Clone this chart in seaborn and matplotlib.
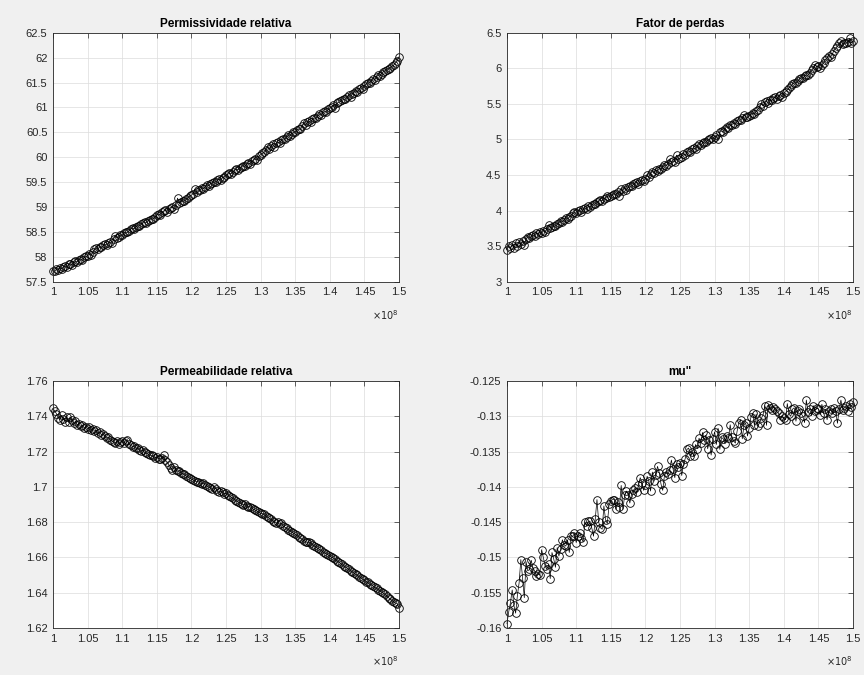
import numpy as np
import pandas as pd
import matplotlib
matplotlib.use('Agg')
import matplotlib.pyplot as plt
import seaborn as sns

# frequency sweep (Hz)
freq_start = 1.0e8
freq_stop = 1.5e8
n_points = 201
freq = np.linspace(freq_start, freq_stop, n_points)

permissividade = [
    57.72, 57.71, 57.75, 57.74, 57.78, 57.76, 57.80, 57.82, 57.79, 57.85,
    57.86, 57.84, 57.89, 57.91, 57.90, 57.94, 57.96, 57.93, 57.99, 58.01,
    58.02, 58.06, 58.03, 58.09, 58.15, 58.18, 58.16, 58.20, 58.19, 58.23,
    58.25, 58.24, 58.28, 58.30, 58.27, 58.36, 58.42, 58.38, 58.40, 58.44,
    58.43, 58.47, 58.50, 58.49, 58.53, 58.56, 58.58, 58.56, 58.61, 58.63,
    58.62, 58.66, 58.68, 58.70, 58.69, 58.73, 58.75, 58.77, 58.76, 58.80,
    58.84, 58.86, 58.85, 58.90, 58.92, 58.94, 58.91, 58.97, 58.99, 59.00,
    58.96, 59.04, 59.18, 59.08, 59.10, 59.13, 59.12, 59.16, 59.19, 59.22,
    59.24, 59.27, 59.36, 59.30, 59.34, 59.35, 59.38, 59.37, 59.41, 59.44,
    59.43, 59.47, 59.49, 59.51, 59.50, 59.54, 59.56, 59.55, 59.59, 59.61,
    59.64, 59.66, 59.68, 59.67, 59.71, 59.74, 59.76, 59.75, 59.79, 59.81,
    59.83, 59.82, 59.86, 59.88, 59.87, 59.92, 59.95, 59.97, 59.94, 60.02,
    60.05, 60.08, 60.10, 60.14, 60.20, 60.16, 60.22, 60.26, 60.21, 60.28,
    60.30, 60.29, 60.34, 60.37, 60.36, 60.41, 60.44, 60.43, 60.47, 60.50,
    60.51, 60.54, 60.57, 60.56, 60.62, 60.68, 60.64, 60.70, 60.72, 60.71,
    60.76, 60.79, 60.78, 60.83, 60.86, 60.85, 60.90, 60.92, 60.91, 60.96,
    60.99, 61.01, 61.05, 60.98, 61.08, 61.10, 61.12, 61.14, 61.17, 61.16,
    61.21, 61.25, 61.22, 61.27, 61.30, 61.34, 61.31, 61.37, 61.40, 61.38,
    61.44, 61.47, 61.50, 61.49, 61.54, 61.58, 61.55, 61.62, 61.65, 61.63,
    61.68, 61.72, 61.74, 61.76, 61.78, 61.80, 61.83, 61.85, 61.90, 61.94,
    62.02,
]

fator_perdas = [
    3.45, 3.50, 3.48, 3.52, 3.47, 3.54, 3.51, 3.56, 3.53, 3.58,
    3.52, 3.60, 3.63, 3.61, 3.64, 3.66, 3.65, 3.69, 3.67, 3.70,
    3.68, 3.72, 3.70, 3.74, 3.80, 3.76, 3.77, 3.79, 3.78, 3.81,
    3.83, 3.85, 3.84, 3.87, 3.90, 3.88, 3.91, 3.93, 3.96, 3.98,
    3.96, 3.99, 4.01, 3.98, 4.02, 4.04, 4.03, 4.06, 4.05, 4.08,
    4.10, 4.09, 4.12, 4.13, 4.15, 4.14, 4.17, 4.18, 4.20, 4.19,
    4.21, 4.22, 4.24, 4.23, 4.26, 4.21, 4.30, 4.28, 4.32, 4.29,
    4.33, 4.35, 4.34, 4.37, 4.39, 4.40, 4.38, 4.41, 4.43, 4.42,
    4.45, 4.50, 4.47, 4.52, 4.55, 4.53, 4.57, 4.56, 4.59, 4.58,
    4.62, 4.64, 4.63, 4.66, 4.72, 4.68, 4.70, 4.69, 4.78, 4.73,
    4.74, 4.76, 4.80, 4.78, 4.82, 4.84, 4.83, 4.86, 4.88, 4.87,
    4.91, 4.93, 4.92, 4.95, 4.97, 4.96, 4.99, 5.00, 5.02, 5.01,
    5.04, 5.06, 5.00, 5.10, 5.12, 5.11, 5.15, 5.18, 5.16, 5.20,
    5.21, 5.23, 5.22, 5.26, 5.28, 5.27, 5.30, 5.35, 5.32, 5.31,
    5.33, 5.35, 5.37, 5.36, 5.40, 5.42, 5.45, 5.50, 5.47, 5.52,
    5.54, 5.51, 5.56, 5.55, 5.58, 5.60, 5.57, 5.61, 5.63, 5.60,
    5.65, 5.67, 5.70, 5.72, 5.75, 5.78, 5.80, 5.79, 5.82, 5.85,
    5.87, 5.86, 5.89, 5.91, 5.90, 5.94, 5.97, 6.00, 6.05, 6.02,
    6.03, 6.00, 6.04, 6.08, 6.12, 6.15, 6.18, 6.16, 6.20, 6.25,
    6.28, 6.31, 6.35, 6.38, 6.34, 6.36, 6.35, 6.37, 6.42, 6.36,
    6.38,
]

permeabilidade = [
    1.7445, 1.7430, 1.7415, 1.7392, 1.7380, 1.7405, 1.7385, 1.7370, 1.7398, 1.7365,
    1.7395, 1.7378, 1.7360, 1.7372, 1.7350, 1.7355, 1.7342, 1.7348, 1.7335, 1.7340,
    1.7330, 1.7338, 1.7322, 1.7330, 1.7315, 1.7320, 1.7305, 1.7312, 1.7295, 1.7300,
    1.7288, 1.7275, 1.7282, 1.7268, 1.7260, 1.7255, 1.7250, 1.7258, 1.7245, 1.7252,
    1.7262, 1.7248, 1.7262, 1.7268, 1.7240, 1.7235, 1.7228, 1.7232, 1.7218, 1.7220,
    1.7210, 1.7202, 1.7208, 1.7195, 1.7190, 1.7185, 1.7180, 1.7178, 1.7172, 1.7165,
    1.7168, 1.7160, 1.7158, 1.7165, 1.7178, 1.7150, 1.7140, 1.7125, 1.7108, 1.7098,
    1.7110, 1.7095, 1.7088, 1.7092, 1.7080, 1.7075, 1.7070, 1.7062, 1.7058, 1.7050,
    1.7045, 1.7040, 1.7035, 1.7028, 1.7030, 1.7022, 1.7018, 1.7020, 1.7012, 1.7005,
    1.7000, 1.6995, 1.6985, 1.6998, 1.6990, 1.6978, 1.6970, 1.6975, 1.6968, 1.6960,
    1.6965, 1.6955, 1.6948, 1.6940, 1.6935, 1.6928, 1.6920, 1.6915, 1.6910, 1.6905,
    1.6898, 1.6902, 1.6890, 1.6885, 1.6888, 1.6878, 1.6872, 1.6868, 1.6862, 1.6855,
    1.6850, 1.6848, 1.6845, 1.6835, 1.6828, 1.6822, 1.6815, 1.6808, 1.6800, 1.6795,
    1.6798, 1.6788, 1.6795, 1.6780, 1.6772, 1.6765, 1.6758, 1.6752, 1.6745, 1.6738,
    1.6730, 1.6725, 1.6718, 1.6710, 1.6702, 1.6695, 1.6690, 1.6685, 1.6688, 1.6680,
    1.6672, 1.6665, 1.6660, 1.6652, 1.6645, 1.6640, 1.6632, 1.6625, 1.6622, 1.6615,
    1.6610, 1.6602, 1.6598, 1.6590, 1.6582, 1.6575, 1.6568, 1.6560, 1.6552, 1.6545,
    1.6540, 1.6532, 1.6525, 1.6518, 1.6510, 1.6505, 1.6498, 1.6490, 1.6485, 1.6478,
    1.6470, 1.6462, 1.6458, 1.6450, 1.6445, 1.6438, 1.6430, 1.6425, 1.6418, 1.6410,
    1.6405, 1.6398, 1.6390, 1.6382, 1.6372, 1.6362, 1.6355, 1.6348, 1.6342, 1.6338,
    1.6315,
]

mu_imag = [
    -0.1594, -0.1577, -0.1564, -0.1546, -0.1568, -0.1579, -0.1554, -0.1536, -0.1503, -0.1529,
    -0.1557, -0.1506, -0.1519, -0.1517, -0.1504, -0.1515, -0.1519, -0.1527, -0.1524, -0.1525,
    -0.1489, -0.1500, -0.1512, -0.1517, -0.1510, -0.1530, -0.1493, -0.1502, -0.1514, -0.1486,
    -0.1498, -0.1488, -0.1475, -0.1482, -0.1484, -0.1475, -0.1493, -0.1469, -0.1470, -0.1466,
    -0.1479, -0.1469, -0.1465, -0.1472, -0.1478, -0.1450, -0.1455, -0.1449, -0.1449, -0.1458,
    -0.1470, -0.1446, -0.1418, -0.1450, -0.1458, -0.1460, -0.1427, -0.1447, -0.1452, -0.1425,
    -0.1420, -0.1418, -0.1418, -0.1432, -0.1422, -0.1428, -0.1398, -0.1432, -0.1412, -0.1406,
    -0.1411, -0.1423, -0.1410, -0.1405, -0.1402, -0.1408, -0.1397, -0.1387, -0.1394, -0.1405,
    -0.1398, -0.1385, -0.1392, -0.1406, -0.1379, -0.1392, -0.1383, -0.1371, -0.1380, -0.1396,
    -0.1405, -0.1384, -0.1379, -0.1382, -0.1376, -0.1362, -0.1375, -0.1387, -0.1368, -0.1372,
    -0.1366, -0.1384, -0.1368, -0.1360, -0.1347, -0.1345, -0.1356, -0.1350, -0.1357, -0.1340,
    -0.1346, -0.1331, -0.1338, -0.1323, -0.1334, -0.1327, -0.1346, -0.1334, -0.1355, -0.1332,
    -0.1322, -0.1340, -0.1317, -0.1347, -0.1330, -0.1332, -0.1339, -0.1328, -0.1331, -0.1312,
    -0.1330, -0.1335, -0.1338, -0.1321, -0.1309, -0.1305, -0.1332, -0.1312, -0.1310, -0.1328,
    -0.1316, -0.1301, -0.1296, -0.1313, -0.1297, -0.1314, -0.1309, -0.1303, -0.1298, -0.1285,
    -0.1313, -0.1284, -0.1289, -0.1291, -0.1287, -0.1290, -0.1293, -0.1296, -0.1305, -0.1300,
    -0.1302, -0.1305, -0.1282, -0.1297, -0.1300, -0.1290, -0.1288, -0.1307, -0.1292, -0.1290,
    -0.1296, -0.1300, -0.1309, -0.1277, -0.1294, -0.1290, -0.1299, -0.1285, -0.1292, -0.1288,
    -0.1290, -0.1298, -0.1283, -0.1295, -0.1290, -0.1305, -0.1292, -0.1290, -0.1296, -0.1288,
    -0.1293, -0.1310, -0.1290, -0.1277, -0.1291, -0.1288, -0.1285, -0.1292, -0.1283, -0.1287,
    -0.1280,
]

titles = ['Permissividade relativa', 'Fator de perdas', 'Permeabilidade relativa', 'mu"']

xtick_values = [1.0e8, 1.05e8, 1.1e8, 1.15e8, 1.2e8, 1.25e8, 1.3e8, 1.35e8, 1.4e8, 1.45e8, 1.5e8]
xtick_labels = ['1', '1.05', '1.1', '1.15', '1.2', '1.25', '1.3', '1.35', '1.4', '1.45', '1.5']

yticks_permissividade = [57.5, 58, 58.5, 59, 59.5, 60, 60.5, 61, 61.5, 62, 62.5]
yticks_fator = [3, 3.5, 4, 4.5, 5, 5.5, 6, 6.5]
yticks_permeabilidade = [1.62, 1.64, 1.66, 1.68, 1.7, 1.72, 1.74, 1.76]
yticks_mu = [-0.16, -0.155, -0.15, -0.145, -0.14, -0.135, -0.13, -0.125]

# Style: MATLAB-like look
sns.set_theme(style='white')
plt.rcParams['font.family'] = ['Liberation Sans', 'DejaVu Sans']

fig = plt.figure(figsize=(8.64, 6.75), dpi=100, facecolor='#F0F0F0')

positions = [
    [0.0613, 0.5825, 0.4005, 0.3690],
    [0.5868, 0.5825, 0.4005, 0.3690],
    [0.0613, 0.0696, 0.4005, 0.3660],
    [0.5868, 0.0696, 0.4005, 0.3660],
]
series = [permissividade, fator_perdas, permeabilidade, mu_imag]
yticks_all = [yticks_permissividade, yticks_fator, yticks_permeabilidade, yticks_mu]

for pos, values, title, yticks in zip(positions, series, titles, yticks_all):
    ax = fig.add_axes(pos)
    ax.set_facecolor('white')
    panel = pd.DataFrame({'freq': freq, 'value': values})
    sns.lineplot(data=panel, x='freq', y='value', ax=ax, color='black',
                 linewidth=0.5, marker='o', markersize=5.5,
                 markerfacecolor='none', markeredgecolor='black',
                 markeredgewidth=0.6, sort=False, estimator=None,
                 clip_on=False)

    ax.set_xlim(xtick_values[0], xtick_values[-1])
    ax.set_ylim(yticks[0], yticks[-1])
    ax.set_xticks(xtick_values)
    ax.set_xticklabels(xtick_labels)
    ax.set_yticks(yticks)
    ax.set_yticklabels(['%g' % v for v in yticks])
    ax.set_xlabel('')
    ax.set_ylabel('')

    ax.grid(True, color='#DCDCDC', linewidth=0.5)
    ax.set_axisbelow(True)
    ax.tick_params(direction='in', top=True, right=True, length=3.5,
                   width=0.5, colors='#262626', labelsize=8, pad=4)
    for sp in ax.spines.values():
        sp.set_color('#262626')
        sp.set_linewidth(0.6)

    ax.set_title(title, fontsize=8.5, fontweight='bold', color='black', pad=4)
    ax.text(1.0, -0.105, r'$\times10^{8}$', transform=ax.transAxes,
            ha='right', va='top', fontsize=7, color='#262626')

fig.savefig('out.png', dpi=100, facecolor=fig.get_facecolor())
